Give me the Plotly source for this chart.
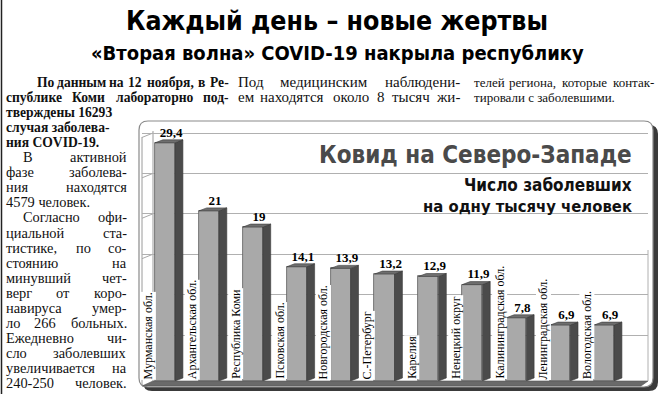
import plotly.graph_objects as go

# ---------------- data ----------------
regions = ["Мурманская обл.", "Архангельская обл.", "Республика Коми", "Псковская обл.",
           "Новгородская обл.", "С.-Петербург", "Карелия", "Ненецкий округ",
           "Калининградская обл.", "Ленинградская обл.", "Вологодская обл."]
cases_per_1000 = [29.4, 21, 19, 14.1, 13.9, 13.2, 12.9, 11.9, 7.8, 6.9, 6.9]
grid_values = [5, 10, 15, 20, 25, 30]

headline = "Каждый день – новые жертвы"
subhead = "«Вторая волна» COVID-19 накрыла республику"
chart_title = "Ковид на Северо-Западе"
chart_sub1 = "Число заболевших"
chart_sub2 = "на одну тысячу человек"

# column 1 lines: text, bold, justified
col1_lines = [
    ("По данным на 12 ноября, в Ре-", True, True),
    ("спублике Коми лабораторно под-", True, True),
    ("тверждены 16293", True, False),
    ("случая заболева-", True, False),
    ("ния COVID-19.", True, False),
    ("В активной", False, True),
    ("фазе заболева-", False, True),
    ("ния находятся", False, True),
    ("4579 человек.", False, False),
    ("Согласно офи-", False, True),
    ("циальной ста-", False, True),
    ("тистике, по со-", False, True),
    ("стоянию на", False, True),
    ("минувший чет-", False, True),
    ("верг от коро-", False, True),
    ("навируса умер-", False, True),
    ("ло 266 больных.", False, True),
    ("Ежедневно чи-", False, True),
    ("сло заболевших", False, True),
    ("увеличивается на", False, True),
    ("240-250 человек.", False, True),
]
col2_lines = [("Под медицинским наблюдени-", True), ("ем находятся около 8 тысяч жи-", True)]
col3_lines = [("телей региона, которые контак-", True), ("тировали с заболевшими.", False)]

# ---------------- helpers ----------------
W, H = 665, 394
def px(x):
    return x / W
def py(y):
    return 1 - y / H

SERIF = "Liberation Serif, DejaVu Serif, serif"
COND = "DejaVu Sans Condensed, DejaVu Sans, sans-serif"

_cw = {"а": .444, "б": .5, "в": .472, "г": .41, "д": .5, "е": .444, "ж": .721, "з": .395,
       "и": .535, "й": .535, "к": .486, "л": .5, "м": .63, "н": .535, "о": .5, "п": .535,
       "р": .5, "с": .444, "т": .45, "у": .5, "ф": .648, "х": .5, "ц": .535, "ч": .5,
       "ш": .77, "щ": .77, "ъ": .54, "ы": .72, "ь": .47, "э": .44, "ю": .74, "я": .5,
       ",": .25, ".": .25, "-": .333}

def est_width(word, size, bold):
    w = 0.0
    for ch in word:
        if ch.isdigit():
            w += .5
        elif ch.isupper():
            w += .72
        else:
            w += _cw.get(ch, .5)
    return w * size * (1.06 if bold else 1.0)

annotations = []

def add_line(text, left, right, yc, bold=False, justify=False, size=14):
    words = text.split(" ")
    fnt = dict(family=SERIF, size=size, color="#111")
    wrap = (lambda s: "<b>" + s + "</b>") if bold else (lambda s: s)
    if not justify or len(words) == 1:
        annotations.append(dict(x=px(left), y=py(yc), xref="paper", yref="paper",
                                text=wrap(text), showarrow=False, xanchor="left",
                                yanchor="middle", font=fnt))
        return
    widths = [est_width(w, size, bold) for w in words]
    gap = (right - left - sum(widths)) / (len(words) - 1)
    pos = left
    for k, w in enumerate(words):
        if k == 0:
            x, anc = left, "left"
        elif k == len(words) - 1:
            x, anc = right, "right"
        else:
            x, anc = pos + widths[k] / 2, "center"
        annotations.append(dict(x=px(x), y=py(yc), xref="paper", yref="paper",
                                text=wrap(w), showarrow=False, xanchor=anc,
                                yanchor="middle", font=fnt))
        pos += widths[k] + gap

# body text
LINE0, LSTEP = 82, 15.05
for i, (t, b, j) in enumerate(col1_lines):
    yc = LINE0 + i * LSTEP
    sz = 13.6 if b else 14.4
    if i == 0:
        add_line(t, 35, 231, yc, b, j, sz)
    elif i == 1:
        add_line(t, 4, 231, yc, b, j, sz)
    else:
        left = 21 if t.startswith(("В акт", "Согл")) else 4
        add_line(t, left, 129, yc, b, j, sz)
for i, (t, j) in enumerate(col2_lines):
    add_line(t, 236, 462, LINE0 + i * LSTEP, False, j, 15)
for i, (t, j) in enumerate(col3_lines):
    add_line(t, 472, 656, LINE0 + i * LSTEP, False, j, 13)

# headings
annotations.append(dict(x=px(337), y=py(20), xref="paper", yref="paper", text="<b>" + headline + "</b>",
                        showarrow=False, xanchor="center", yanchor="middle",
                        font=dict(family=COND, size=26.5, color="#000")))
annotations.append(dict(x=px(337), y=py(53), xref="paper", yref="paper", text="<b>" + subhead + "</b>",
                        showarrow=False, xanchor="center", yanchor="middle",
                        font=dict(family=COND, size=20, color="#000")))
annotations.append(dict(x=px(634), y=py(155), xref="paper", yref="paper", text="<b>" + chart_title + "</b>",
                        showarrow=False, xanchor="right", yanchor="middle",
                        font=dict(family=COND, size=24, color="#4a4a4a")))
annotations.append(dict(x=px(634), y=py(185), xref="paper", yref="paper", text="<b>" + chart_sub1 + "</b>",
                        showarrow=False, xanchor="right", yanchor="middle",
                        font=dict(family=COND, size=17, color="#111")))
annotations.append(dict(x=px(634), y=py(206), xref="paper", yref="paper", text="<b>" + chart_sub2 + "</b>",
                        showarrow=False, xanchor="right", yanchor="middle",
                        font=dict(family=COND, size=16.5, color="#111")))

# category labels (vertical, left of each bar)
idx = list(range(len(regions)))
for i, name in zip(idx, regions):
    annotations.append(dict(x=i - 0.39, y=0, xref="x", yref="y2", text=name, textangle=-90,
                            showarrow=False, xanchor="center", yanchor="bottom", yshift=1,
                            bgcolor="white", borderpad=0,
                            font=dict(family=SERIF, size=12, color="#000")))

# ---------------- 3D bar geometry (derived from data) ----------------
hw, d, dy = 0.228, 0.18, 0.37
side_x, side_y, top_x, top_y = [], [], [], []
for i, v in zip(idx, cases_per_1000):
    side_x += [i + hw, i + hw + d, i + hw + d, i + hw, i + hw, None]
    side_y += [0, dy, v + dy, v, 0, None]
    top_x += [i - hw, i + hw, i + hw + d, i - hw + d, i - hw, None]
    top_y += [v, v, v + dy, v + dy, v, None]

fig = go.Figure()
fig.add_trace(go.Scatter(x=[0], y=[0], mode="none", hoverinfo="skip", showlegend=False))
fig.add_trace(go.Scatter(x=side_x, y=side_y, yaxis="y2", fill="toself", fillcolor="#4b4b4b",
                         mode="lines", line=dict(color="#3a3a3a", width=0.6),
                         hoverinfo="skip", showlegend=False))
fig.add_trace(go.Bar(x=idx, y=cases_per_1000, yaxis="y2", width=2 * hw,
                     marker=dict(color="#a9a9a9", line=dict(color="#5e5e5e", width=0.8)),
                     hoverinfo="skip", showlegend=False))
fig.add_trace(go.Scatter(x=top_x, y=top_y, yaxis="y2", fill="toself", fillcolor="#6e6e6e",
                         mode="lines", line=dict(color="#3a3a3a", width=0.6),
                         hoverinfo="skip", showlegend=False))
fig.add_trace(go.Scatter(x=[i + 0.14 for i in idx], y=[v + dy for v in cases_per_1000], yaxis="y2",
                         mode="text", textposition="top center",
                         text=["<b>" + (f"{v:g}".replace(".", ",")) + "</b>" for v in cases_per_1000],
                         textfont=dict(family=SERIF, size=13, color="#000"),
                         hoverinfo="skip", showlegend=False))

# ---------------- decorations ----------------
def rrect(x0, y0, x1, y1, r):
    X0, X1 = px(x0), px(x1)
    Y0, Y1 = py(y1), py(y0)
    rx, ry = r / W, r / H
    return (f"M {X0+rx},{Y1} L {X1-rx},{Y1} Q {X1},{Y1} {X1},{Y1-ry} "
            f"L {X1},{Y0+ry} Q {X1},{Y0} {X1-rx},{Y0} L {X0+rx},{Y0} "
            f"Q {X0},{Y0} {X0},{Y0+ry} L {X0},{Y1-ry} Q {X0},{Y1} {X0+rx},{Y1} Z")

shapes = [
    dict(type="line", xref="paper", yref="paper", x0=px(1.5), x1=px(1.5), y0=0, y1=1,
         line=dict(color="#222", width=1.5), layer="below"),
    dict(type="path", xref="paper", yref="paper", path=rrect(143, 125, 658, 391, 9),
         fillcolor="#3a3a3a", line=dict(width=0), layer="below"),
    dict(type="path", xref="paper", yref="paper", path=rrect(139, 121, 653, 387, 9),
         fillcolor="white", line=dict(color="#8a8a8a", width=1.2), layer="below"),
    # floor
    dict(type="path", xref="paper", yref="paper",
         path=f"M {px(142)},{py(386)} L {px(153)},{py(381)} L {px(648)},{py(381)} L {px(641)},{py(386)} Z",
         fillcolor="#6a6a6a", line=dict(color="#555", width=0.6), layer="below"),
    # back wall left edge and left wall outer edge
    dict(type="line", xref="paper", yref="paper", x0=px(153), x1=px(153), y0=py(381), y1=py(131),
         line=dict(color="#9a9a9a", width=1), layer="below"),
    dict(type="line", xref="paper", yref="paper", x0=px(142), x1=px(142), y0=py(386), y1=py(137),
         line=dict(color="#9a9a9a", width=1), layer="below"),
    dict(type="line", xref="paper", yref="paper", x0=px(648), x1=px(648), y0=py(381), y1=py(250),
         line=dict(color="#b0b0b0", width=1), layer="below"),
    # white area behind the chart title hides the upper grid lines
    dict(type="rect", xref="paper", yref="paper", x0=px(280), x1=px(649), y0=py(242), y1=py(124),
         fillcolor="white", line=dict(width=0), layer="between"),
]
for g in grid_values:
    shapes.append(dict(type="line", xref="paper", yref="y", x0=px(142), x1=px(153), y0=g - 0.55, y1=g,
                       line=dict(color="#a8a8a8", width=1), layer="below"))

XL = (142 - 165) / 43.9
XR = (648 - 165) / 43.9
fig.update_layout(
    width=W, height=H, autosize=False,
    margin=dict(l=0, r=0, t=0, b=0),
    paper_bgcolor="white", plot_bgcolor="rgba(0,0,0,0)",
    showlegend=False, bargap=0,
    xaxis=dict(domain=[px(142), px(648)], range=[XL, XR], visible=False, fixedrange=True),
    yaxis=dict(domain=[py(381), py(125)], range=[-0.69, 30.99], showgrid=True, gridcolor="#b0b0b0",
               gridwidth=1, tickvals=grid_values, showticklabels=False, ticks="", zeroline=False,
               showline=False, fixedrange=True),
    yaxis2=dict(domain=[py(381), py(125)], range=[0, 31.6], overlaying="y", visible=False,
                showgrid=False, zeroline=False, fixedrange=True),
    shapes=shapes,
    annotations=annotations,
)

fig.write_html("out.html", config={"displayModeBar": False},
               post_script="document.body.style.margin='0';document.body.style.overflow='hidden';")
